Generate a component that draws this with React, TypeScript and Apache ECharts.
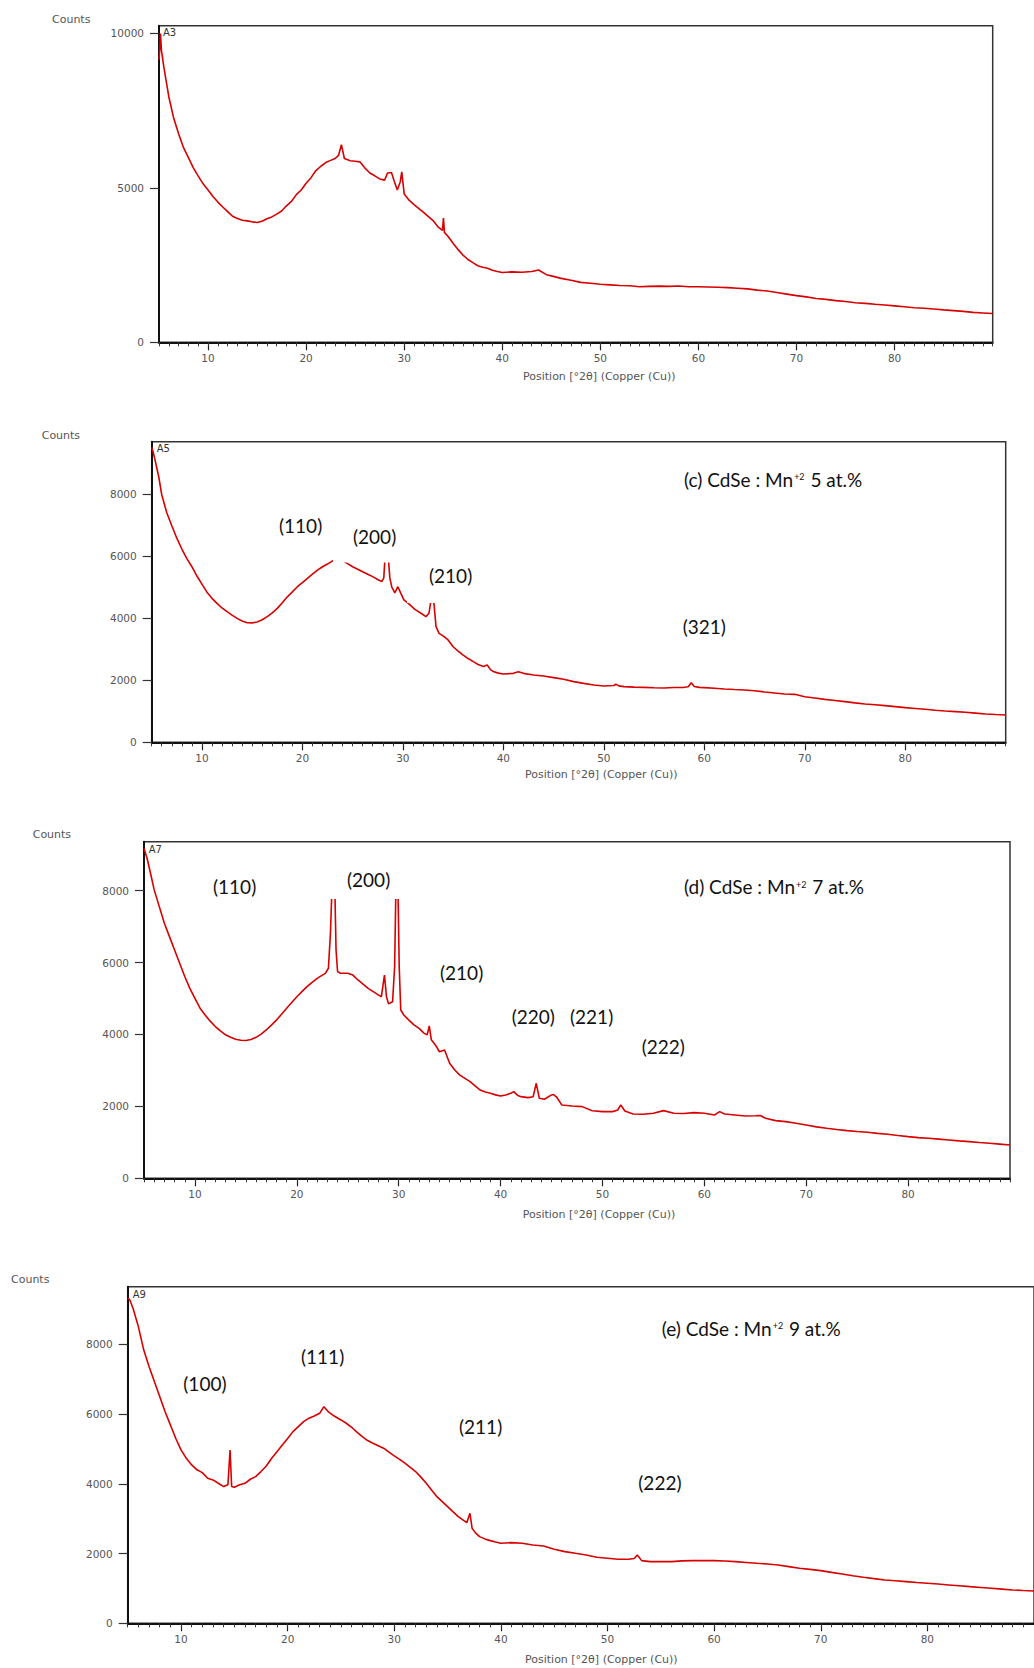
import React, { useEffect, useRef } from "react";
import * as echarts from "echarts";

// ---------- data (2θ in degrees, counts) ----------
const X_MIN = 5;
const X_MAX = 90;
const X_MAJOR_TICKS = [10, 20, 30, 40, 50, 60, 70, 80];
const A3_Y_TICKS = [0, 5000, 10000];
const Y_TICKS = [0, 2000, 4000, 6000, 8000];

const A3 = [
  [5.0, 9150], [5.1, 9600], [5.15, 10000], [5.25, 9450], [5.5, 8900], [6.0, 7950], [6.5, 7250], [7.0, 6750],
  [7.5, 6300], [8.0, 5980], [8.5, 5650], [9.0, 5380], [9.5, 5130], [10.0, 4930], [10.5, 4720], [11.0, 4540],
  [11.5, 4380], [12.0, 4230], [12.5, 4080], [13.0, 4010], [13.5, 3950], [14.0, 3930], [14.5, 3900], [15.0, 3880],
  [15.5, 3920], [16.0, 4000], [16.5, 4060], [17.0, 4150], [17.5, 4250], [18.0, 4420], [18.5, 4560], [19.0, 4780],
  [19.5, 4930], [20.0, 5150], [20.5, 5330], [21.0, 5560], [21.5, 5700], [22.0, 5820], [22.5, 5890], [23.0, 5960],
  [23.3, 6050], [23.6, 6400], [23.9, 5950], [24.5, 5880], [25.0, 5860], [25.5, 5840], [26.0, 5640], [26.5, 5480],
  [27.0, 5390], [27.5, 5290], [28.0, 5250], [28.3, 5480], [28.7, 5500], [29.0, 5200], [29.3, 4930], [29.6, 5200],
  [29.75, 5520], [30.0, 4800], [30.5, 4600], [31.0, 4460], [31.5, 4330], [32.0, 4200], [32.5, 4060], [33.0, 3920],
  [33.5, 3720], [33.9, 3620], [34.0, 4020], [34.1, 3560], [34.5, 3420], [35.0, 3200], [35.5, 3000], [36.0, 2820],
  [36.5, 2680], [37.0, 2580], [37.5, 2480], [38.0, 2430], [38.5, 2400], [39.0, 2330], [39.5, 2290], [40.0, 2260],
  [41, 2280], [42, 2270], [43, 2290], [43.7, 2340], [44.5, 2190], [45, 2150], [46, 2070], [47, 2010], [48, 1940],
  [49, 1910], [50, 1880], [51, 1860], [52, 1840], [53, 1830], [54, 1800], [55, 1810], [56, 1820], [57, 1810],
  [58, 1825], [59, 1800], [60, 1800], [61, 1790], [62, 1780], [63, 1770], [64, 1750], [65, 1730], [66, 1690],
  [67, 1660], [68, 1610], [69, 1560], [70, 1510], [71, 1470], [72, 1420], [73, 1390], [74, 1350], [75, 1320],
  [76, 1280], [77, 1260], [78, 1230], [79, 1210], [80, 1180], [81, 1150], [82, 1120], [83, 1100], [84, 1080],
  [85, 1050], [86, 1025], [87, 1000], [88, 970], [89, 950], [90, 930],
];

const A5 = [
  [5.0, 9500], [5.15, 9350], [5.3, 9150], [5.5, 8850], [5.7, 8560], [6.0, 7980], [6.5, 7400], [7.0, 6980],
  [7.5, 6580], [8.0, 6230], [8.5, 5920], [9.0, 5660], [9.5, 5360], [10.0, 5100], [10.5, 4840], [11.0, 4640],
  [11.5, 4480], [12.0, 4330], [12.5, 4210], [13.0, 4100], [13.5, 3995], [14.0, 3910], [14.5, 3855], [15.0, 3850],
  [15.5, 3877], [16.0, 3950], [16.5, 4050], [17.0, 4170], [17.5, 4317], [18.0, 4500], [18.5, 4690], [19.0, 4850],
  [19.5, 5015], [20.0, 5150], [20.5, 5284], [21.0, 5420], [21.5, 5550], [22.0, 5660], [22.5, 5745], [23.0, 5850],
  [23.5, 5880], [24.0, 5850], [24.5, 5760], [25.0, 5660], [25.5, 5580], [26.0, 5500], [26.5, 5420], [27.0, 5340],
  [27.5, 5250], [27.9, 5180], [28.1, 5300], [28.3, 6400], [28.5, 6200], [28.7, 5300], [28.9, 5000], [29.2, 4820],
  [29.5, 5015], [29.8, 4800], [30.1, 4590], [30.6, 4460], [31.2, 4285], [31.8, 4160], [32.3, 4050], [32.6, 4160],
  [32.9, 4800], [33.1, 4450], [33.3, 3727], [33.6, 3510], [34.0, 3430], [34.5, 3300], [35.0, 3080], [35.5, 2940],
  [36.0, 2810], [36.5, 2700], [37.0, 2600], [37.5, 2510], [38.0, 2440], [38.4, 2490], [38.7, 2350], [39.0, 2280],
  [39.5, 2230], [40.0, 2200], [41, 2223], [41.5, 2277], [42, 2223], [43, 2170], [44, 2137], [45, 2084], [46, 2030],
  [47, 1955], [48, 1900], [49, 1847], [50, 1815], [51, 1830], [51.2, 1870], [51.5, 1820], [52, 1794], [53, 1780],
  [54, 1772], [55, 1760], [56, 1750], [57, 1765], [58, 1772], [58.4, 1790], [58.7, 1922], [59.0, 1800], [59.5, 1770],
  [60, 1761], [61, 1740], [62, 1718], [63, 1700], [64, 1686], [65, 1660], [66, 1622], [67, 1590], [68, 1557],
  [69, 1546], [70, 1470], [71, 1430], [72, 1385], [73, 1350], [74, 1310], [75, 1270], [76, 1235], [77, 1210],
  [78, 1181], [79, 1150], [80, 1117], [81, 1090], [82, 1063], [83, 1035], [84, 1010], [85, 990], [86, 967],
  [87, 940], [88, 913], [89, 895], [90, 880],
];

const A7 = [
  [5.0, 9180], [5.3, 8900], [5.6, 8530], [6.0, 8020], [6.5, 7555], [7.0, 7090], [7.5, 6720], [8.0, 6350],
  [8.5, 5980], [9.0, 5610], [9.5, 5280], [10.0, 5005], [10.5, 4730], [11.0, 4540], [11.5, 4370], [12.0, 4220],
  [12.5, 4100], [13.0, 3990], [13.5, 3920], [14.0, 3865], [14.5, 3840], [15.0, 3830], [15.5, 3860], [16.0, 3920],
  [16.5, 4010], [17.0, 4125], [17.5, 4260], [18.0, 4400], [18.5, 4560], [19.0, 4730], [19.5, 4890], [20.0, 5050],
  [20.5, 5190], [21.0, 5330], [21.5, 5450], [22.0, 5560], [22.5, 5650], [22.8, 5700], [23.1, 5840], [23.3, 6810],
  [23.5, 8500], [23.7, 8500], [23.85, 6350], [24.0, 5750], [24.3, 5700], [25.0, 5700], [25.5, 5650], [26.0, 5515],
  [26.5, 5400], [27.0, 5280], [27.5, 5190], [28.0, 5100], [28.3, 5050], [28.6, 5650], [28.8, 5050], [29.0, 4850],
  [29.4, 4910], [29.6, 5890], [29.75, 8500], [29.9, 8500], [30.05, 5890], [30.2, 4680], [30.5, 4540], [31.0, 4400],
  [31.5, 4265], [32.0, 4170], [32.5, 4030], [32.8, 3990], [33.0, 4240], [33.2, 3850], [33.6, 3710], [34.0, 3520],
  [34.5, 3570], [35.0, 3200], [35.5, 3010], [36.0, 2870], [36.5, 2780], [37.0, 2690], [37.5, 2570], [38.0, 2455],
  [38.5, 2400], [39.0, 2365], [39.5, 2320], [40.0, 2290], [40.5, 2318], [41.0, 2364], [41.3, 2410], [41.7, 2300],
  [42.0, 2270], [42.7, 2243], [43.2, 2270], [43.5, 2642], [43.8, 2225], [44.3, 2197], [45.0, 2318], [45.2, 2330],
  [45.5, 2260], [46.0, 2040], [47.0, 2010], [48.0, 1993], [49.0, 1880], [50.0, 1854], [51.0, 1854], [51.5, 1900],
  [51.8, 2040], [52.2, 1870], [53.0, 1790], [54.0, 1780], [55.0, 1808], [56.0, 1882], [57.0, 1808], [58.0, 1800],
  [59.0, 1826], [60.0, 1808], [61.0, 1760], [61.5, 1854], [62.0, 1790], [63.0, 1761], [64.0, 1733], [65.0, 1740],
  [65.5, 1745], [66.0, 1668], [67.0, 1604], [68.0, 1576], [69.0, 1530], [70.0, 1483], [71, 1430], [72, 1390],
  [73, 1355], [74, 1326], [75, 1300], [76, 1280], [77, 1250], [78, 1223], [79, 1190], [80, 1159], [81, 1130],
  [82, 1112], [83, 1090], [84, 1066], [85, 1040], [86, 1020], [87, 995], [88, 973], [89, 950], [90, 927],
];

const A9 = [
  [5.0, 9320], [5.2, 9270], [5.5, 9030], [6.0, 8505], [6.5, 7840], [7.0, 7360], [7.5, 6930], [8.0, 6500],
  [8.5, 6070], [9.0, 5690], [9.5, 5305], [10.0, 4970], [10.5, 4730], [11.0, 4540], [11.5, 4400], [12.0, 4320],
  [12.5, 4160], [13.0, 4110], [13.5, 4014], [14.0, 3920], [14.4, 3970], [14.6, 4970], [14.75, 3920], [15.0, 3900],
  [15.5, 3970], [16.0, 4014], [16.5, 4130], [17.0, 4205], [17.5, 4350], [18.0, 4510], [18.5, 4730], [19.0, 4920],
  [19.5, 5110], [20.0, 5300], [20.5, 5495], [21.0, 5640], [21.5, 5780], [22.0, 5880], [22.5, 5945], [23.0, 6020],
  [23.4, 6210], [23.8, 6070], [24.2, 5975], [24.6, 5900], [25.0, 5830], [25.5, 5735], [26.0, 5620], [26.5, 5480],
  [27.0, 5350], [27.5, 5240], [28.0, 5160], [28.5, 5090], [29.0, 5020], [29.5, 4910], [30.0, 4800], [30.5, 4700],
  [31.0, 4590], [31.5, 4470], [32.0, 4350], [32.5, 4190], [33.0, 4014], [33.5, 3820], [34.0, 3630], [34.5, 3490],
  [35.0, 3345], [35.5, 3200], [36.0, 3060], [36.5, 2950], [36.8, 2885], [37.1, 3155], [37.3, 2725], [37.6, 2600],
  [38.0, 2485], [38.5, 2420], [39.0, 2370], [39.5, 2330], [40.0, 2295], [41, 2313], [42, 2294], [43, 2246],
  [44, 2217], [45, 2122], [46, 2055], [47, 2007], [48, 1960], [49, 1892], [50, 1864], [51, 1835], [52, 1835],
  [52.5, 1860], [52.8, 1960], [53.2, 1797], [54, 1768], [55, 1770], [56, 1768], [57, 1790], [58, 1797], [59, 1800],
  [60, 1797], [61, 1785], [62, 1768], [63, 1745], [64, 1720], [65, 1700], [66, 1673], [67, 1625], [68, 1577],
  [69, 1545], [70, 1510], [71, 1460], [72, 1415], [73, 1365], [74, 1320], [75, 1280], [76, 1243], [77, 1220],
  [78, 1195], [79, 1170], [80, 1147], [81, 1125], [82, 1100], [83, 1075], [84, 1051], [85, 1028], [86, 1004],
  [87, 980], [88, 956], [89, 940], [90, 925],
];

const SAMPLE_TAGS = ["A3", "A5", "A7", "A9"];
const Y_MAXES = [10250, 9690, 9360, 9650];

// ---------- layout ----------
const PANELS = [
  { data: A3, yTicks: A3_Y_TICKS, grid: { left: 159, top: 25.7, width: 833.7, height: 316.6 } },
  { data: A5, yTicks: Y_TICKS, grid: { left: 151.7, top: 441.7, width: 854, height: 300.6 } },
  { data: A7, yTicks: Y_TICKS, grid: { left: 144, top: 841.7, width: 866, height: 336.6 } },
  { data: A9, yTicks: Y_TICKS, grid: { left: 127.7, top: 1286.7, width: 909, height: 336.6 } },
];

const COUNTS_POS = [[52, 19], [41.7, 435], [32.7, 834.3], [11, 1279.3]];
const XTITLE_POS = [[523, 376.7], [525, 774.3], [522.7, 1214.3], [525, 1659.3]];
const TAG_POS = [[163, 32], [156.7, 448.3], [148.7, 849.3], [132.7, 1294]];

const HKL_LABELS = [
  { text: "(110)", x: 279, y: 525 },
  { text: "(200)", x: 353, y: 536 },
  { text: "(210)", x: 429, y: 575 },
  { text: "(321)", x: 682.7, y: 626.7 },
  { text: "(110)", x: 213, y: 886.7 },
  { text: "(200)", x: 347, y: 879 },
  { text: "(210)", x: 440, y: 972.7 },
  { text: "(220)", x: 511.7, y: 1016.7 },
  { text: "(221)", x: 570, y: 1016.7 },
  { text: "(222)", x: 641.7, y: 1046.7 },
  { text: "(100)", x: 183.3, y: 1383.3 },
  { text: "(111)", x: 301, y: 1356 },
  { text: "(211)", x: 459, y: 1426.7 },
  { text: "(222)", x: 638.3, y: 1482.7 },
];

// white label boxes that cover part of the trace, as in the original figure
const LABEL_BOXES = [
  { x: 333, y: 508, w: 104, h: 54.5 },
  { x: 407, y: 550, w: 110, h: 53 },
  { x: 325, y: 856, w: 118, h: 43 },
];

const TITLES = [
  { label: "(c) CdSe : Mn", dose: " 5 at.%", x: 684, y: 479 },
  { label: "(d) CdSe : Mn", dose: " 7 at.%", x: 684, y: 886.7 },
  { label: "(e) CdSe : Mn", dose: " 9 at.%", x: 661.7, y: 1328.3 },
];

const AXIS_FONT = "'DejaVu Sans', 'Open Sans', sans-serif";
const NOTE_FONT = "Lato, 'Open Sans', sans-serif";

export default function App() {
  const ref = useRef<HTMLDivElement>(null);

  useEffect(() => {
    if (!ref.current) return;
    const chart = echarts.init(ref.current, null, { renderer: "svg" });

    const grids: any[] = [];
    const xAxes: any[] = [];
    const yAxes: any[] = [];
    const series: any[] = [];

    PANELS.forEach((p, i) => {
      grids.push({
        ...p.grid,
        show: true,
        borderColor: "#333",
        borderWidth: 1.5,
        backgroundColor: "transparent",
        containLabel: false,
      });
      xAxes.push({
        gridIndex: i,
        type: "value",
        position: "bottom",
        min: X_MIN,
        max: X_MAX,
        axisLine: { show: true, onZero: false, lineStyle: { color: "#111", width: 2 } },
        axisTick: { show: true, customValues: X_MAJOR_TICKS, length: 8, lineStyle: { color: "#222", width: 1.2 } },
        axisLabel: {
          show: true,
          customValues: X_MAJOR_TICKS,
          margin: 10,
          color: "#555",
          fontSize: 10.5,
          fontFamily: AXIS_FONT,
          formatter: (v: number) => String(v),
        },
        splitLine: { show: false },
      });
      xAxes.push({
        gridIndex: i,
        type: "value",
        position: "bottom",
        min: X_MIN,
        max: X_MAX,
        interval: 1,
        axisLine: { show: false, onZero: false },
        axisTick: { show: true, length: 4, lineStyle: { color: "#333", width: 1 } },
        axisLabel: { show: false },
        splitLine: { show: false },
      });
      yAxes.push({
        gridIndex: i,
        type: "value",
        min: 0,
        max: Y_MAXES[i],
        axisLine: { show: true, onZero: false, lineStyle: { color: "#111", width: 2 } },
        axisTick: { show: true, customValues: p.yTicks, length: 9, lineStyle: { color: "#333", width: 1.2 } },
        axisLabel: {
          show: true,
          customValues: p.yTicks,
          margin: 15,
          color: "#555",
          fontSize: 10.5,
          fontFamily: AXIS_FONT,
          formatter: (v: number) => String(v),
        },
        splitLine: { show: false },
      });
      series.push({
        type: "line",
        xAxisIndex: i * 2,
        yAxisIndex: i,
        data: p.data,
        symbol: "none",
        showSymbol: false,
        lineStyle: { color: "#d80000", width: 1.6 },
        silent: true,
        z: 2,
      });
    });

    const graphics: any[] = [];
    COUNTS_POS.forEach(([x, y]) =>
      graphics.push({
        type: "text",
        x,
        y,
        style: { text: "Counts", fontSize: 11, fontFamily: AXIS_FONT, fill: "#555", align: "left", verticalAlign: "middle" },
      })
    );
    XTITLE_POS.forEach(([x, y]) =>
      graphics.push({
        type: "text",
        x,
        y,
        style: {
          text: "Position [°2θ] (Copper (Cu))",
          fontSize: 11,
          fontFamily: AXIS_FONT,
          fill: "#555",
          align: "left",
          verticalAlign: "middle",
        },
      })
    );
    TAG_POS.forEach(([x, y], i) =>
      graphics.push({
        type: "text",
        x,
        y,
        style: { text: SAMPLE_TAGS[i], fontSize: 10, fontFamily: AXIS_FONT, fill: "#333", align: "left", verticalAlign: "middle" },
      })
    );
    LABEL_BOXES.forEach((b) =>
      graphics.push({
        type: "rect",
        z: 50,
        shape: { x: b.x, y: b.y, width: b.w, height: b.h },
        style: { fill: "#ffffff" },
      })
    );
    HKL_LABELS.forEach((l) =>
      graphics.push({
        type: "text",
        z: 60,
        x: l.x,
        y: l.y,
        style: { text: l.text, fontSize: 19, fontFamily: NOTE_FONT, fill: "#111", align: "left", verticalAlign: "middle" },
      })
    );
    TITLES.forEach((t) =>
      graphics.push({
        type: "text",
        z: 60,
        x: t.x,
        y: t.y,
        style: {
          text: `{m|${t.label}}{s|+2}{m|${t.dose}}`,
          align: "left",
          verticalAlign: "middle",
          rich: {
            m: { fontSize: 19, fontFamily: NOTE_FONT, fill: "#111", color: "#111" },
            s: { fontSize: 9, fontFamily: NOTE_FONT, fill: "#111", color: "#111", padding: [0, 1, 5, 1] },
          },
        },
      })
    );

    chart.setOption({
      animation: false,
      backgroundColor: "#ffffff",
      grid: grids,
      xAxis: xAxes,
      yAxis: yAxes,
      series,
      graphic: graphics,
    });

    return () => chart.dispose();
  }, []);

  return (
    <div
      style={{ position: "absolute", left: 0, top: 0, width: 1034, height: 1668, overflow: "hidden", background: "#fff" }}
    >
      <div ref={ref} style={{ width: 1034, height: 1668 }} />
    </div>
  );
}
